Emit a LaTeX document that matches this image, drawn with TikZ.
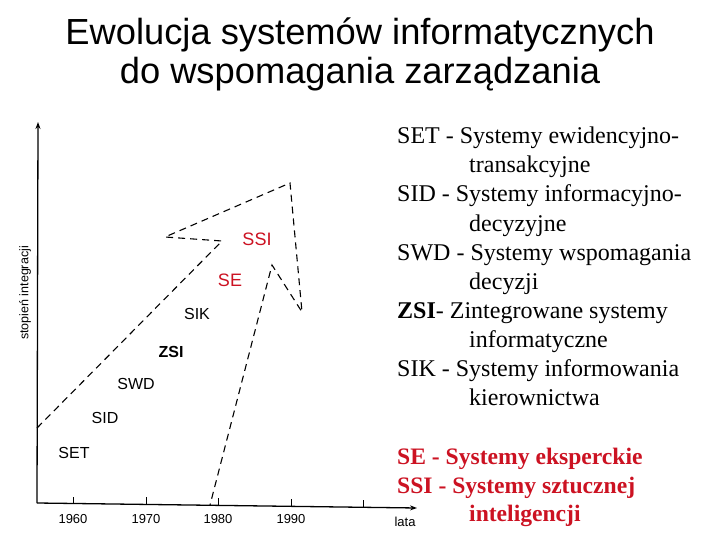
\documentclass[tikz,border=0pt]{standalone}
\usepackage{fontspec}
\setmainfont{Liberation Serif}
\setsansfont{Liberation Sans}
\usetikzlibrary{arrows.meta}
\definecolor{redx}{RGB}{204,18,34}
\begin{document}
\begin{tikzpicture}[x=1pt,y=-1pt,
  axisline/.style={line width=1.3pt,-{Stealth[length=7pt,width=5pt]}},
  dashline/.style={line width=1.1pt,dash pattern=on 7pt off 5pt},
  ticklab/.style={font=\sffamily\fontsize{13}{13}\selectfont,inner sep=0pt},
  chartlab/.style={font=\sffamily\fontsize{16}{16}\selectfont,inner sep=0pt},
  redlab/.style={font=\sffamily\fontsize{18}{18}\selectfont,text=redx,inner sep=0pt},
  legend/.style={font=\fontsize{24}{24}\selectfont,anchor=base west,inner sep=0pt},
  redlegend/.style={font=\bfseries\fontsize{23.6}{23.6}\selectfont,text=redx,anchor=base west,inner sep=0pt},
  titlestyle/.style={font=\sffamily\fontsize{36.3}{36.3}\selectfont,anchor=base,inner sep=0pt}]
\useasboundingbox[fill=white] (0,0) rectangle (720,540);
% title
\node[titlestyle] (t1) at (360,45) {Ewolucja systemów informatycznych};
\node[titlestyle] (t2) at (360,84) {do wspomagania zarządzania};
% axes
\coordinate (O) at (37,503);
\coordinate (ytop) at (38,122);
\coordinate (xend) at (417,508);
\draw[axisline] (O) -- (ytop);
\draw[axisline] (O) -- (xend);
\foreach \x/\y/\lab in {73/503.5/1960,146/504.4/1970,218/505.4/1980,291/506.3/1990,363/507.3/{}}{
  \draw[line width=1pt] (\x,\y) -- (\x,\y-7);
  \node[ticklab] (y\x) at (\x,519) {\lab};
}
\node[ticklab] (lata) at (405,522) {lata};
\node[font=\sffamily\fontsize{12.5}{12.5}\selectfont,rotate=90,inner sep=0pt] (ylab) at (25,293) {stopień integracji};
% dashed arrow shape
\coordinate (p1) at (37,428);
\coordinate (p2) at (222,241);
\coordinate (p3) at (165,237);
\coordinate (p4) at (290,183);
\coordinate (p5) at (302,312);
\coordinate (p6) at (272,265);
\coordinate (p7) at (210,505);
\draw[dashline] (p1) -- (p2) -- (p3) -- (p4) -- (p5) -- (p6) -- (p7);
% chart labels
\node[chartlab] (set) at (74,453) {SET};
\node[chartlab] (sid) at (105,418) {SID};
\node[chartlab] (swd) at (136,384) {SWD};
\node[chartlab,font=\sffamily\bfseries\fontsize{16}{16}\selectfont] (zsi) at (171,352) {ZSI};
\node[chartlab] (sik) at (197,314) {SIK};
\node[redlab] (se) at (230,280) {SE};
\node[redlab] (ssi) at (257,239) {SSI};
% legend
\node[legend] (l1) at (397,144) {SET - Systemy ewidencyjno-};
\node[legend] (l2) at (469,173) {transakcyjne};
\node[legend] (l3) at (397,202) {SID - Systemy informacyjno-};
\node[legend] (l4) at (469,231) {decyzyjne};
\node[legend] (l5) at (397,260) {SWD - Systemy wspomagania};
\node[legend] (l6) at (469,289) {decyzji};
\node[legend] (l7) at (397,318) {\textbf{ZSI}- Zintegrowane systemy};
\node[legend] (l8) at (469,347) {informatyczne};
\node[legend] (l9) at (397,376) {SIK - Systemy informowania};
\node[legend] (l10) at (469,405) {kierownictwa};
\node[redlegend] (r1) at (397,464) {SE - Systemy eksperckie};
\node[redlegend] (r2) at (397,493) {SSI - Systemy sztucznej};
\node[redlegend] (r3) at (469,521) {inteligencji};
\end{tikzpicture}
\end{document}
